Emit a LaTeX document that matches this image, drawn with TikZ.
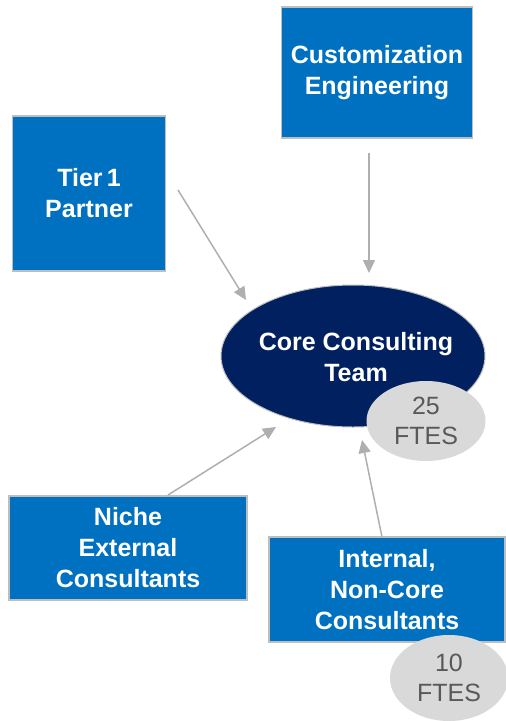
\documentclass[tikz,border=0pt]{standalone}
\usepackage{fontspec}
\setmainfont{Liberation Sans}
\usetikzlibrary{shapes.geometric,arrows.meta}
\definecolor{boxblue}{RGB}{0,112,192}
\definecolor{navy}{RGB}{0,32,96}
\definecolor{edgegray}{RGB}{190,190,190}
\definecolor{arrgray}{RGB}{175,175,175}
\definecolor{ftesfill}{RGB}{217,217,217}
\definecolor{ftestext}{RGB}{89,89,89}
\tikzset{
  bluebox/.style={draw=edgegray, line width=1.5pt, fill=boxblue, text=white,
    font=\fontsize{25}{31}\selectfont\bfseries, align=center, inner sep=0pt},
  coreell/.style={ellipse, draw=edgegray, line width=1pt, fill=navy, text=white,
    font=\fontsize{25}{31}\selectfont\bfseries, align=center, inner sep=0pt},
  ftes/.style={ellipse, fill=ftesfill, text=ftestext,
    font=\fontsize{25}{30}\selectfont, align=center, inner sep=0pt},
  arr/.style={draw=arrgray, line width=1.5pt, -{Triangle[length=13pt,width=12pt]}}
}
\begin{document}
\begin{tikzpicture}[x=1pt,y=-1pt]
\useasboundingbox (0,0) rectangle (506,721);
\node[bluebox, minimum width=191pt, minimum height=131pt] (cust) at (377,72.5) {Customization\\Engineering};
\node[bluebox, minimum width=153pt, minimum height=155pt] (tier) at (89,193.5) {Tier\,1\\Partner};
\node[coreell, minimum width=264pt, minimum height=142pt] (core) at (353,356) {};
\node[font=\fontsize{25}{31}\selectfont\bfseries, text=white, align=center, inner sep=0pt] (coretxt) at (356,357) {Core Consulting\\Team};
\node[ftes, minimum width=119pt, minimum height=80pt] (f25) at (426,421) {25\\FTES};
\node[bluebox, minimum width=238pt, minimum height=104pt] (niche) at (128,548) {Niche\\External\\Consultants};
\node[bluebox, minimum width=236pt, minimum height=105pt] (internal) at (387,589.5) {Internal,\\Non-Core\\Consultants};
\node[ftes, minimum width=118pt, minimum height=86pt] (f10) at (449,678) {10\\FTES};
\coordinate (t1s) at (178,190);
\coordinate (t1e) at (246,300);
\coordinate (cus) at (369,153);
\coordinate (cue) at (369,273);
\coordinate (nis) at (168,495);
\coordinate (nie) at (276,427);
\coordinate (ins) at (382,537);
\coordinate (ine) at (362,440);
\draw[arr] (t1s) -- (t1e);
\draw[arr] (cus) -- (cue);
\draw[arr] (nis) -- (nie);
\draw[arr] (ins) -- (ine);
\end{tikzpicture}
\end{document}
